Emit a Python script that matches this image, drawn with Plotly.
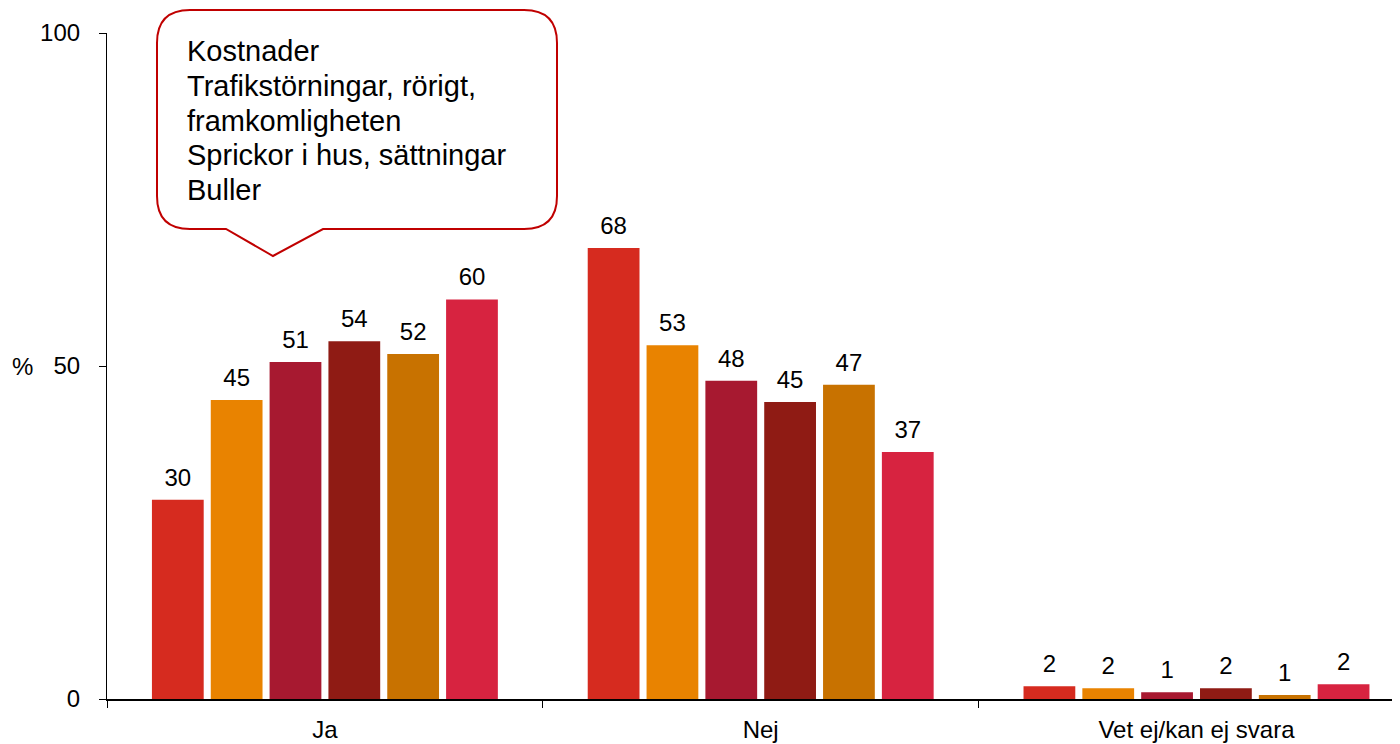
import plotly.graph_objects as go

CATEGORIES = ["Ja", "Nej", "Vet ej/kan ej svara"]
SERIES_NAMES = ["S1", "S2", "S3", "S4", "S5", "S6"]
SERIES_COLORS = ["#D62B1F", "#E98300", "#A71930", "#8F1B14", "#C87200", "#D72340"]

# one list per series: values for Ja / Nej / Vet ej
S1 = [29.9, 67.7, 1.9]
S2 = [44.9, 53.1, 1.6]
S3 = [50.6, 47.8, 1.0]
S4 = [53.7, 44.6, 1.6]
S5 = [51.8, 47.2, 0.6]
S6 = [60.0, 37.1, 2.2]
SERIES_VALUES = [S1, S2, S3, S4, S5, S6]

Y_TICKS = [0, 50, 100]
CALLOUT_LINES = [
    "Kostnader",
    "Trafikstörningar, rörigt,",
    "framkomligheten",
    "Sprickor i hus, sättningar",
    "Buller",
]

FONT = "Arial, 'Liberation Sans', sans-serif"
LABEL_GAP = 0.9  # value units between bar top and its label

# page body has an 8px margin, so the figure is sized to the rest of the window
OFF = 8
W, H = 1400 - OFF, 744 - OFF
ML, MR, MT, MB = 107 - OFF, 0, 33 - OFF, 45
PW, PH = W - ML - MR, H - MT - MB


def fx(px):
    # screen px -> paper x
    return (px - OFF - ML) / PW


def fy(py):
    # screen px -> paper y
    return (OFF + H - MB - py) / PH


fig = go.Figure()
for i, (name, color, vals) in enumerate(zip(SERIES_NAMES, SERIES_COLORS, SERIES_VALUES)):
    fig.add_trace(
        go.Bar(
            x=CATEGORIES,
            y=vals,
            name=name,
            offsetgroup=str(i),
            marker=dict(color=color, line=dict(width=0)),
        )
    )
    # transparent spacer sitting on the bar, carrying the value label
    fig.add_trace(
        go.Bar(
            x=CATEGORIES,
            y=[LABEL_GAP] * len(vals),
            base=vals,
            offsetgroup=str(i),
            marker=dict(color="rgba(0,0,0,0)", line=dict(width=0)),
            text=[f"{v:.0f}" if v >= 1 else "1" for v in vals],
            textposition="outside",
            textfont=dict(size=24, color="#000000", family=FONT),
            cliponaxis=False,
            hoverinfo="skip",
            showlegend=False,
        )
    )

# callout bubble (decoration, pixel geometry)
L, R, T, B, r = 157, 557, 10, 229, 33
p1, apex_x, apex_y, p2 = 226, 273, 256, 323
pts = [
    ("M", L + r, T), ("L", R - r, T), ("Q", R, T, R, T + r), ("L", R, B - r),
    ("Q", R, B, R - r, B), ("L", p2, B), ("L", apex_x, apex_y), ("L", p1, B),
    ("L", L + r, B), ("Q", L, B, L, B - r), ("L", L, T + r), ("Q", L, T, L + r, T),
]
path = ""
for p in pts:
    cmd, coords = p[0], p[1:]
    xy = []
    for k in range(0, len(coords), 2):
        xy.append(f"{fx(coords[k]):.5f},{fy(coords[k + 1]):.5f}")
    path += cmd + " ".join(xy) + " "
path += "Z"

annotations = [
    dict(
        x=fx(22), y=50, xref="paper", yref="y", text="%", showarrow=False,
        xanchor="center", yanchor="middle", font=dict(size=24, color="#000000", family=FONT),
    )
]
for i, line in enumerate(CALLOUT_LINES):
    annotations.append(
        dict(
            x=fx(185), y=fy(51 + i * 34.8), xref="paper", yref="paper", text=line,
            showarrow=False, xanchor="left", yanchor="middle", align="left",
            font=dict(size=29, color="#000000", family=FONT),
        )
    )

fig.update_layout(
    width=W,
    height=H,
    margin=dict(l=ML, r=MR, t=MT, b=MB),
    paper_bgcolor="white",
    plot_bgcolor="white",
    barmode="group",
    bargap=0.19,
    bargroupgap=0.12,
    showlegend=False,
    font=dict(family=FONT, size=24, color="#000000"),
    xaxis=dict(
        range=[-0.5, 2.467],
        showgrid=False,
        showline=True,
        linecolor="#000000",
        linewidth=1.5,
        ticks="outside",
        tickson="boundaries",
        ticklen=7,
        tickcolor="#000000",
        ticklabelstandoff=8,
        tickfont=dict(size=24),
    ),
    yaxis=dict(
        range=[0, 100],
        tickvals=Y_TICKS,
        showgrid=False,
        zeroline=False,
        showline=True,
        linecolor="#000000",
        linewidth=1.2,
        ticks="outside",
        ticklen=7,
        tickcolor="#000000",
        ticklabelstandoff=14,
        tickfont=dict(size=24),
    ),
    shapes=[
        dict(
            type="path", path=path, xref="paper", yref="paper",
            line=dict(color="#C00000", width=2), fillcolor="white", layer="above",
        )
    ],
    annotations=annotations,
)

fig.write_html("out.html")
